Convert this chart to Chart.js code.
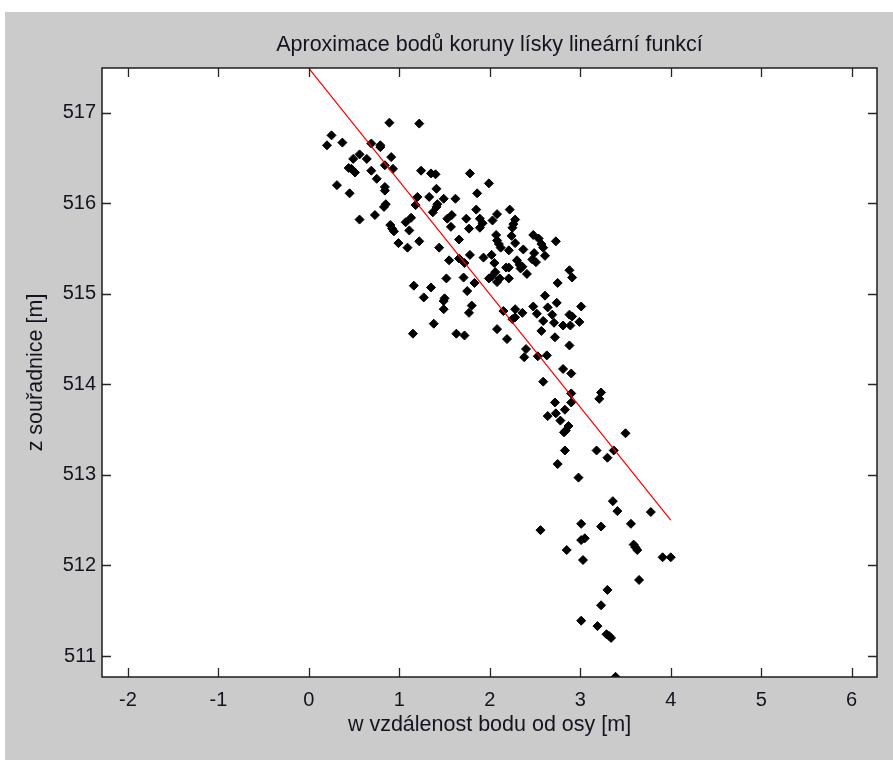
<!DOCTYPE html>
<html>
<head>
<meta charset="utf-8">
<script src="https://cdn.jsdelivr.net/npm/chart.js@4.4.0/dist/chart.umd.min.js"></script>
<style>
  html, body { margin: 0; padding: 0; background: #fff; }
  #fig { position: absolute; left: 5px; top: 12px; width: 888px; height: 748px; background: #cbcbcb; }
  #wrap { position: absolute; left: 0; top: 0; width: 893px; height: 760px; }
</style>
</head>
<body>
<div id="fig"></div>
<div id="wrap"><canvas id="myChart" width="893" height="760"></canvas></div>
<script>
// measured crown points: w = distance from the axis, z = height
const wVals = [
  0.89, 1.22, 0.25, 0.20, 0.37, 0.69, 0.79, 0.79, 0.56, 0.49, 0.64, 0.91, 0.84, 0.93, 0.44, 0.47, 0.51, 0.69, 0.75, 1.24,
  1.35, 1.40, 1.78, 1.99, 0.31, 0.84, 0.84, 1.41, 0.45, 1.86, 1.33, 1.49, 1.62, 1.20, 0.85, 0.83, 1.18, 1.42, 1.41, 1.37,
  1.85, 0.73, 0.56, 1.13, 1.07, 1.53, 1.58, 1.74, 1.89, 1.92, 2.03, 0.90, 0.92, 0.94, 1.11, 1.57, 1.77, 1.89, 2.07, 2.08,
  0.99, 1.22, 1.66, 1.09, 1.44, 2.08, 2.22, 2.28, 2.26, 2.25, 2.10, 2.12, 2.24, 2.28, 2.48, 2.54, 2.57, 2.59, 2.73, 2.21,
  2.37, 2.49, 2.47, 2.51, 2.61, 1.78, 1.93, 2.02, 2.05, 1.55, 1.66, 1.72, 2.18, 2.21, 2.30, 2.33, 2.34, 2.36, 2.41, 2.06,
  1.99, 2.02, 2.08, 2.11, 2.21, 2.88, 2.91, 2.75, 1.52, 1.71, 1.83, 1.16, 1.35, 1.75, 1.27, 1.50, 2.61, 1.49, 1.49, 1.80,
  1.77, 2.74, 2.64, 3.01, 2.48, 2.52, 2.15, 2.28, 2.28, 2.25, 2.36, 2.59, 2.69, 2.71, 2.88, 2.91, 2.99, 2.81, 2.89, 2.57,
  1.38, 1.15, 1.63, 1.72, 2.08, 2.19, 2.72, 2.88, 2.40, 2.38, 2.53, 2.63, 2.81, 2.90, 2.59, 2.90, 3.23, 3.21, 2.72, 2.83,
  2.90, 2.73, 2.64, 2.78, 2.87, 2.84, 2.82, 3.50, 2.83, 3.18, 3.37, 3.30, 2.75, 2.98, 3.36, 3.41, 3.78, 3.01, 2.56, 3.23,
  3.56, 3.01, 3.05, 2.85, 3.59, 3.61, 3.63, 3.03, 3.91, 4.00, 3.65, 3.30, 3.23, 3.01, 3.19, 3.29, 3.32, 3.34, 3.39
];
const zVals = [
  516.89, 516.88, 516.75, 516.64, 516.67, 516.66, 516.64, 516.62, 516.54, 516.49, 516.49, 516.51, 516.42, 516.38, 516.39, 516.38, 516.34, 516.36, 516.27, 516.36,
  516.33, 516.32, 516.33, 516.22, 516.20, 516.18, 516.14, 516.16, 516.11, 516.11, 516.07, 516.05, 516.05, 516.07, 515.99, 515.96, 515.98, 515.99, 515.96, 515.90,
  515.93, 515.87, 515.82, 515.84, 515.79, 515.83, 515.87, 515.83, 515.83, 515.78, 515.81, 515.76, 515.72, 515.69, 515.70, 515.74, 515.72, 515.73, 515.65, 515.59,
  515.56, 515.58, 515.60, 515.51, 515.51, 515.88, 515.93, 515.82, 515.77, 515.73, 515.55, 515.51, 515.64, 515.56, 515.65, 515.61, 515.55, 515.51, 515.58, 515.48,
  515.49, 515.45, 515.38, 515.35, 515.42, 515.43, 515.40, 515.43, 515.34, 515.37, 515.39, 515.34, 515.29, 515.29, 515.37, 515.32, 515.28, 515.30, 515.22, 515.24,
  515.17, 515.19, 515.13, 515.17, 515.17, 515.26, 515.18, 515.12, 515.17, 515.18, 515.12, 515.09, 515.07, 515.03, 514.96, 514.95, 514.98, 514.92, 514.83, 514.87,
  514.79, 514.90, 514.85, 514.86, 514.86, 514.78, 514.81, 514.83, 514.74, 514.72, 514.79, 514.70, 514.77, 514.68, 514.77, 514.75, 514.69, 514.65, 514.65, 514.59,
  514.67, 514.56, 514.56, 514.54, 514.61, 514.50, 514.52, 514.43, 514.39, 514.30, 514.31, 514.32, 514.17, 514.12, 514.03, 513.90, 513.91, 513.84, 513.80, 513.72,
  513.80, 513.68, 513.65, 513.60, 513.54, 513.49, 513.47, 513.46, 513.27, 513.27, 513.27, 513.19, 513.12, 512.97, 512.71, 512.60, 512.59, 512.46, 512.39, 512.43,
  512.46, 512.28, 512.30, 512.17, 512.23, 512.20, 512.17, 512.06, 512.09, 512.09, 511.84, 511.73, 511.56, 511.39, 511.33, 511.24, 511.22, 511.20, 510.77
];

// fitted line end points
const lineW = [0, 4];
const lineZ = [517.49, 512.50];

// axis limits (equal scaling on both axes)
const wMin = -2.287, wMax = 6.28;
const zMin = 510.768, zMax = 517.494;

const titleText = 'Aproximace bodů koruny lísky lineární funkcí';
const xLabel = 'w vzdálenost bodu od osy [m]';
const yLabel = 'z souřadnice [m]';

const points = wVals.map((w, i) => ({ x: w, y: zVals[i] }));
const linePts = lineW.map((w, i) => ({ x: w, y: lineZ[i] }));

const FONT = 'Liberation Sans, Arial, sans-serif';
const TXT = '#141420';

// white axes box, inward ticks on all four sides and the title
const boxPlugin = {
  id: 'box',
  beforeDatasetsDraw(chart) {
    const a = chart.chartArea;
    const c = chart.ctx;
    c.save();
    c.fillStyle = '#fff';
    c.fillRect(a.left, a.top, a.right - a.left, a.bottom - a.top);
    c.restore();
  },
  afterDraw(chart) {
    const a = chart.chartArea;
    const c = chart.ctx;
    const xs = chart.scales.x, ys = chart.scales.y;
    const len = 9;
    c.save();
    c.strokeStyle = '#262626';
    c.lineWidth = 1.3;
    c.beginPath();
    xs.ticks.forEach(t => {
      const px = Math.round(xs.getPixelForValue(t.value)) + 0.5;
      c.moveTo(px, a.bottom); c.lineTo(px, a.bottom - len);
      c.moveTo(px, a.top); c.lineTo(px, a.top + len);
    });
    ys.ticks.forEach(t => {
      const py = Math.round(ys.getPixelForValue(t.value)) + 0.5;
      c.moveTo(a.left, py); c.lineTo(a.left + len, py);
      c.moveTo(a.right, py); c.lineTo(a.right - len, py);
    });
    c.stroke();
    c.strokeStyle = '#1e1e1e';
    c.lineWidth = 1.5;
    c.strokeRect(a.left, a.top, a.right - a.left, a.bottom - a.top);

    c.fillStyle = TXT;
    c.font = '21.5px ' + FONT;
    c.textAlign = 'center';
    c.textBaseline = 'alphabetic';
    c.fillText(titleText, (a.left + a.right) / 2, 51);
    c.restore();
  }
};

const ctx = document.getElementById('myChart').getContext('2d');
const myChart = new Chart(ctx, {
  type: 'scatter',
  data: {
    datasets: [
      {
        label: 'fit',
        data: linePts,
        showLine: true,
        borderColor: '#ff0000',
        borderWidth: 1.2,
        pointRadius: 0,
        fill: false
      },
      {
        label: 'points',
        data: points,
        pointStyle: 'rectRot',
        pointRadius: 4.5,
        backgroundColor: '#000',
        borderColor: '#000',
        borderWidth: 1
      }
    ]
  },
  options: {
    responsive: false,
    animation: false,
    layout: { padding: { left: 0, top: 68, right: 16, bottom: 0 } },
    plugins: {
      legend: { display: false },
      tooltip: { enabled: false },
      title: { display: false }
    },
    scales: {
      x: {
        type: 'linear',
        min: wMin,
        max: wMax,
        grid: { display: false, drawTicks: false },
        border: { display: false },
        ticks: {
          stepSize: 1,
          includeBounds: false,
          padding: 11,
          color: TXT,
          font: { family: FONT, size: 20 }
        },
        title: {
          display: true,
          text: xLabel,
          color: TXT,
          font: { family: FONT, size: 21.5 },
          padding: { top: 0, bottom: 22 }
        },
        afterFit(scale) { scale.height = 83; }
      },
      y: {
        type: 'linear',
        min: zMin,
        max: zMax,
        grid: { display: false, drawTicks: false },
        border: { display: false },
        ticks: {
          stepSize: 1,
          includeBounds: false,
          padding: 6,
          color: TXT,
          font: { family: FONT, size: 20 }
        },
        title: {
          display: true,
          text: yLabel,
          color: TXT,
          font: { family: FONT, size: 21.5 },
          padding: { top: 23, bottom: 0 }
        },
        afterFit(scale) { scale.width = 102; }
      }
    }
  },
  plugins: [boxPlugin]
});
</script>
</body>
</html>
